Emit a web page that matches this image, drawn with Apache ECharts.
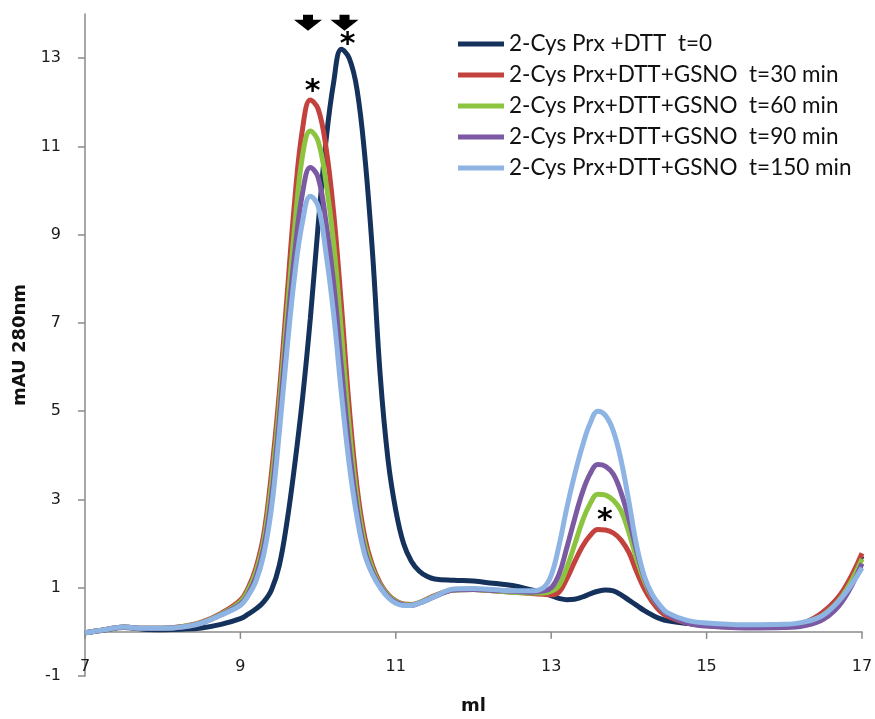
<!DOCTYPE html>
<html>
<head>
<meta charset="utf-8">
<script src="https://cdn.jsdelivr.net/npm/echarts@6/dist/echarts.min.js"></script>
<style>
html,body{margin:0;padding:0;background:#fff;}
#chart{width:875px;height:719px;}
</style>
</head>
<body>
<div id="chart"></div>
<script>
// ---- data ----
var mlValues = [7.0, 7.25, 7.5, 7.75, 8.0, 8.25, 8.5, 8.75,
  9.0, 9.1, 9.2, 9.3, 9.4, 9.5, 9.6, 9.7, 9.8, 9.9, 10.0, 10.1, 10.2, 10.3, 10.4, 10.5, 10.6, 10.7, 10.8, 10.9, 11.0, 11.1, 11.2, 11.3, 11.4, 11.5,
  11.75, 12.0, 12.25, 12.5, 12.75, 12.9,
  13.0, 13.1, 13.2, 13.3, 13.4, 13.5, 13.6, 13.7, 13.8, 13.9, 14.0, 14.1, 14.2, 14.3, 14.4, 14.5,
  14.75, 15.0, 15.5, 16.0, 16.25, 16.5, 16.75, 17.0];

var t0 = [-0.02, 0.04, 0.10, 0.06, 0.05, 0.06, 0.09, 0.17,
  0.30, 0.40, 0.52, 0.68, 0.95, 1.5, 2.5, 3.8, 5.3, 7.1, 9.2, 11.1, 12.45, 13.2, 13.0, 12.3, 10.8, 8.6, 5.8, 3.9, 2.75, 2.0, 1.6, 1.38, 1.26, 1.2,
  1.17, 1.15, 1.1, 1.05, 0.95, 0.88,
  0.82, 0.76, 0.73, 0.74, 0.79, 0.86, 0.92, 0.95, 0.93, 0.84, 0.72, 0.60, 0.48, 0.38, 0.30, 0.25,
  0.19, 0.15, 0.12, 0.14, 0.20, 0.44, 0.90, 1.72];

var t30 = [-0.02, 0.05, 0.11, 0.08, 0.08, 0.12, 0.22, 0.42,
  0.72, 1.0, 1.45, 2.2, 3.6, 5.4, 7.6, 9.8, 11.4, 12.05, 11.85, 11.0, 9.5, 7.4, 5.1, 3.3, 2.15, 1.5, 1.1, 0.85, 0.70, 0.63, 0.62, 0.66, 0.74, 0.82,
  0.95, 0.96, 0.93, 0.90, 0.87, 0.85,
  0.84, 0.90, 1.2, 1.58, 1.93, 2.18, 2.32, 2.31, 2.24, 2.08, 1.8, 1.36, 0.97, 0.68, 0.47, 0.35,
  0.20, 0.14, 0.10, 0.12, 0.20, 0.45, 0.92, 1.78];

var t60 = [-0.02, 0.05, 0.11, 0.08, 0.08, 0.12, 0.21, 0.40,
  0.68, 0.94, 1.36, 2.05, 3.35, 5.1, 7.2, 9.2, 10.8, 11.35, 11.12, 10.2, 8.8, 6.8, 4.65, 3.05, 2.0, 1.43, 1.06, 0.83, 0.69, 0.62, 0.61, 0.66, 0.73, 0.81,
  0.95, 0.96, 0.93, 0.90, 0.88, 0.88,
  0.92, 1.05, 1.45, 1.97, 2.5, 2.9, 3.12, 3.1, 2.98, 2.74, 2.25, 1.65, 1.15, 0.78, 0.55, 0.40,
  0.22, 0.15, 0.11, 0.12, 0.18, 0.38, 0.82, 1.65];

var t90 = [-0.02, 0.05, 0.11, 0.08, 0.08, 0.11, 0.20, 0.39,
  0.63, 0.86, 1.24, 1.9, 3.05, 4.8, 6.8, 8.6, 9.95, 10.52, 10.3, 9.3, 7.9, 6.0, 4.2, 2.8, 1.85, 1.35, 1.03, 0.80, 0.67, 0.61, 0.60, 0.65, 0.72, 0.80,
  0.95, 0.96, 0.94, 0.92, 0.90, 0.93,
  1.0, 1.3, 1.9, 2.55, 3.15, 3.58, 3.79, 3.75, 3.57, 3.15, 2.55, 1.84, 1.22, 0.80, 0.55, 0.40,
  0.20, 0.13, 0.09, 0.10, 0.14, 0.28, 0.70, 1.55];

var t150 = [-0.02, 0.05, 0.11, 0.08, 0.08, 0.11, 0.20, 0.38,
  0.60, 0.82, 1.15, 1.75, 2.8, 4.5, 6.4, 8.1, 9.3, 9.87, 9.65, 8.6, 7.2, 5.4, 3.8, 2.6, 1.75, 1.3, 1.0, 0.78, 0.65, 0.60, 0.60, 0.65, 0.72, 0.80,
  0.97, 0.98, 0.96, 0.93, 0.93, 1.0,
  1.28, 1.95, 2.8, 3.55, 4.2, 4.72, 5.0, 4.9, 4.55, 3.88, 2.95, 1.95, 1.25, 0.85, 0.60, 0.43,
  0.26, 0.20, 0.16, 0.17, 0.22, 0.38, 0.80, 1.45];

var seriesNames = [
  '2-Cys Prx +DTT  t=0',
  '2-Cys Prx+DTT+GSNO  t=30 min',
  '2-Cys Prx+DTT+GSNO  t=60 min',
  '2-Cys Prx+DTT+GSNO  t=90 min',
  '2-Cys Prx+DTT+GSNO  t=150 min'
];
var seriesValues = [t0, t30, t60, t90, t150];
var seriesColors = ['#14325c', '#c3423e', '#8cc43f', '#7b5aa3', '#8db4e2'];

var xTickValues = [7, 9, 11, 13, 15, 17];
var yTickValues = [-1, 1, 3, 5, 7, 9, 11, 13];

// annotations: [ml, mAU]
var arrowMarks = [[9.87, 13.62], [10.34, 13.62]];
var starMarks = [[10.38, 13.43], [9.93, 12.36], [13.69, 2.64]];

// ---- chart ----
var chart = echarts.init(document.getElementById('chart'), null, {renderer: 'canvas'});

var series = seriesValues.map(function (vals, i) {
  return {
    name: seriesNames[i],
    type: 'line',
    data: mlValues.map(function (x, j) { return [x, vals[j]]; }),
    showSymbol: false,
    smooth: 0.4,
    lineStyle: {width: 5, color: seriesColors[i]},
    itemStyle: {color: seriesColors[i]},
    z: 2 + i
  };
});

var axisGray = '#8a8a8a';
chart.setOption({
  animation: false,
  backgroundColor: '#ffffff',
  grid: {left: 85, right: 13, top: 14, bottom: 43, containLabel: false, outerBoundsMode: 'none'},
  legend: {
    orient: 'vertical',
    left: 453,
    top: 27,
    icon: 'rect',
    itemWidth: 46,
    itemHeight: 5,
    itemGap: 7,
    data: seriesNames,
    textStyle: {fontFamily: 'Lato', fontSize: 22.5, color: '#111', lineHeight: 24}
  },
  xAxis: {
    type: 'value',
    min: 7,
    max: 17,
    name: 'ml',
    nameLocation: 'middle',
    nameGap: 21,
    nameTextStyle: {fontFamily: 'DejaVu Sans', fontWeight: 'bold', fontSize: 18, color: '#111'},
    axisLine: {show: true, onZero: true, lineStyle: {color: axisGray, width: 1.5}},
    axisTick: {show: false},
    axisLabel: {customValues: xTickValues, margin: -17, fontFamily: 'DejaVu Sans', fontSize: 16, color: '#1a1a1a'},
    splitLine: {show: false}
  },
  yAxis: {
    type: 'value',
    min: -1,
    max: 14,
    name: 'mAU 280nm',
    nameLocation: 'middle',
    nameGap: 45,
    nameTextStyle: {fontFamily: 'DejaVu Sans', fontWeight: 'bold', fontSize: 18, color: '#111'},
    axisLine: {show: true, lineStyle: {color: axisGray, width: 1.5}},
    axisTick: {show: true, length: 7, lineStyle: {color: axisGray, width: 1.5}, customValues: yTickValues},
    axisLabel: {customValues: yTickValues, margin: 24, fontFamily: 'DejaVu Sans', fontSize: 16, color: '#1a1a1a'},
    splitLine: {show: false}
  },
  series: series
});

// ---- annotations and zero-line ticks positioned through the axes ----
var graphics = [];
xTickValues.forEach(function (v) {
  var px = chart.convertToPixel({xAxisIndex: 0, yAxisIndex: 0}, [v, 0]);
  graphics.push({
    type: 'line',
    shape: {x1: px[0], y1: px[1], x2: px[0], y2: px[1] + 7},
    style: {stroke: axisGray, lineWidth: 1.5},
    z: 1
  });
});
arrowMarks.forEach(function (p) {
  var px = chart.convertToPixel({xAxisIndex: 0, yAxisIndex: 0}, p);
  graphics.push({
    type: 'polygon',
    x: px[0] - 14,
    y: px[1] - 16,
    shape: {points: [[9, 0], [19, 0], [19, 5], [28, 5], [14, 16], [0, 5], [9, 5]]},
    style: {fill: '#000'},
    z: 20
  });
});
starMarks.forEach(function (p) {
  var px = chart.convertToPixel({xAxisIndex: 0, yAxisIndex: 0}, p);
  graphics.push({
    type: 'text',
    x: px[0],
    y: px[1] + 6,
    style: {text: '*', fontFamily: 'DejaVu Sans', fontWeight: 'bold', fontSize: 30, fill: '#000', align: 'center', verticalAlign: 'middle'},
    z: 20
  });
});
chart.setOption({graphic: graphics});
</script>
</body>
</html>
